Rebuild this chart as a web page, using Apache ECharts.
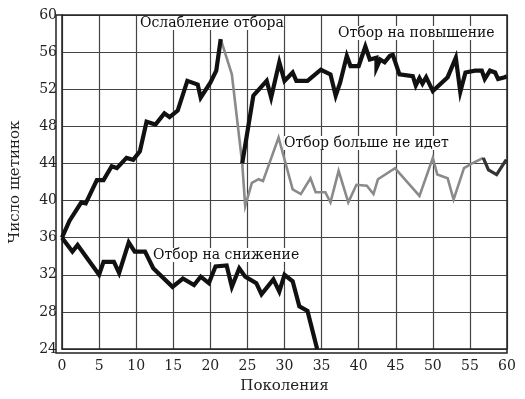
<!DOCTYPE html>
<html>
<head>
<meta charset="utf-8">
<script src="https://cdn.jsdelivr.net/npm/echarts@6/dist/echarts.min.js"></script>
<style>html,body{margin:0;padding:0;background:#fff;}#c{width:525px;height:399px;}</style>
</head>
<body>
<div id="c"></div>
<script>
// Generation / bristle number readings
const selectionUp = [[0,36],[1,37.8],[2.6,39.8],[3.2,39.7],[4.7,42.2],[5.6,42.2],[6.7,43.7],[7.4,43.5],[8.7,44.6],[9.6,44.4],[10.5,45.3],[11.4,48.5],[12.6,48.2],[13.8,49.4],[14.5,49],[15.6,49.7],[16.9,52.9],[18.3,52.5],[18.7,51.1],[20,52.7],[20.8,54.0],[21.4,57.4]];
const relaxed = [[21.4,57.4],[22.9,53.6],[24.3,44.0]];
const reselected = [[24.3,44.0],[25.8,51.3],[27.6,52.9],[28.2,51.1],[29.3,54.9],[30,52.9],[31.1,53.8],[31.6,52.9],[33.1,52.9],[34.9,54.1],[36.2,53.6],[36.9,51.3],[37.5,52.7],[38.4,55.6],[38.9,54.5],[40,54.5],[40.9,56.6],[41.5,55.2],[42.4,55.4],[42.4,54.3],[42.9,55.2],[43.5,54.9],[44.2,55.6],[44.6,55.7],[45.5,53.6],[47.3,53.4],[47.7,52.4],[48.2,53.2],[48.6,52.6],[49.1,53.3],[50,51.8],[52,53.3],[53.1,55.4],[53.7,51.7],[54.4,53.8],[55.7,54],[56.6,54],[57,53.1],[57.7,54],[58.4,53.8],[58.8,53.1],[59.7,53.3],[60,53.4]];
const noSelection = [[24.3,44.0],[24.7,39.4],[25.6,41.9],[26.5,42.3],[27.1,42.1],[29.2,46.8],[31.1,41.2],[32.2,40.7],[33.5,42.4],[34.2,40.9],[35.5,40.9],[36.2,39.8],[37.3,43.2],[38.6,39.8],[39.7,41.7],[41.1,41.6],[42,40.7],[42.6,42.3],[44.9,43.5],[48.2,40.5],[50,44.6],[50.6,42.8],[52,42.4],[52.8,40.1],[54.2,43.5],[55.3,44],[56.8,44.6]];
const noSelectionEnd = [[56.8,44.6],[57.5,43.3],[58.6,42.8],[59.9,44.4]];
const selectionDown = [[0,36],[1.4,34.5],[2.1,35.2],[5,32],[5.6,33.4],[7,33.4],[7.7,32.2],[9,35.5],[9.8,34.5],[11.2,34.5],[12.3,32.7],[14.9,30.7],[16.3,31.6],[17.8,30.9],[18.7,31.8],[19.8,31.1],[20.7,32.9],[22.2,33],[22.9,30.7],[23.9,32.7],[24.7,31.8],[26.2,31.1],[26.9,29.9],[28.5,31.5],[29.3,30.2],[30,32],[31.1,31.3],[32,28.6],[33.1,28.1],[34.4,24.0]];
const xTicks = {min:0, max:60, step:5};
const yTicks = {min:24, max:60, step:4};
const labels = ['Ослабление отбора','Отбор на повышение','Отбор больше не идет','Отбор на снижение'];
const xTitle = 'Поколения';
const yTitle = 'Число щетинок';

const FONT = 'DejaVu Serif';
const chart = echarts.init(document.getElementById('c'));
function line(data, color, width){
  return {type:'line', data:data, symbol:'none', smooth:false, animation:false,
    lineStyle:{color:color, width:width, join:'miter'}, z: color==='#111' ? 3 : 2};
}
const ann = '14px "DejaVu Serif"';
chart.setOption({
  animation:false,
  backgroundColor:'#fff',
  grid:{left:56, right:18, top:15, bottom:46},
  xAxis:{type:'value', min:xTicks.min, max:xTicks.max, interval:xTicks.step,
    name:xTitle, nameLocation:'middle', nameGap:30,
    nameTextStyle:{fontFamily:FONT, fontSize:15, color:'#222'},
    axisLine:{show:true, lineStyle:{color:'#222', width:1.5}},
    axisTick:{show:false},
    axisLabel:{fontFamily:FONT, fontSize:14, color:'#222', margin:10},
    splitLine:{show:true, lineStyle:{color:'#444', width:1.2}}},
  yAxis:{type:'value', min:yTicks.min, max:yTicks.max, interval:yTicks.step,
    name:yTitle, nameLocation:'middle', nameGap:39, nameRotate:90,
    nameTextStyle:{fontFamily:FONT, fontSize:15, color:'#222'},
    axisLine:{show:true, lineStyle:{color:'#222', width:1.5}},
    axisTick:{show:false},
    axisLabel:{fontFamily:FONT, fontSize:14, color:'#222', margin:5},
    splitLine:{show:true, lineStyle:{color:'#444', width:1.2}}},
  series:[
    line(noSelection, '#8a8a8a', 2.6),
    line(noSelectionEnd, '#333', 3.2),
    line(relaxed, '#8a8a8a', 2.6),
    line(selectionUp, '#111', 4.2),
    line(reselected, '#111', 4.2),
    line(selectionDown, '#111', 4.2)
  ],
  graphic:[
    {type:'rect', shape:{x:56, y:15, width:451, height:338}, style:{fill:'none', stroke:'#222', lineWidth:1.5}, silent:true, z:10},
    {type:'text', left:140, top:16, style:{text:labels[0], font:ann, fill:'#111', backgroundColor:'#fff'}, z:5},
    {type:'text', left:338, top:26, style:{text:labels[1], font:ann, fill:'#111', backgroundColor:'#fff'}, z:5},
    {type:'text', left:284, top:136, style:{text:labels[2], font:ann, fill:'#111', backgroundColor:'#fff'}, z:5},
    {type:'text', left:153, top:248, style:{text:labels[3], font:ann, fill:'#111', backgroundColor:'#fff'}, z:5}
  ]
});
</script>
</body>
</html>
